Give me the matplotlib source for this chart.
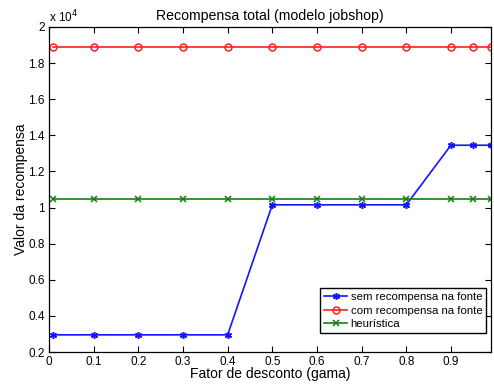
import matplotlib
matplotlib.use("Agg")
import matplotlib.pyplot as plt
from matplotlib.ticker import FuncFormatter, MultipleLocator

plt.rcParams["font.family"] = ["Liberation Sans", "DejaVu Sans"]

gama = [0.01, 0.1, 0.2, 0.3, 0.4, 0.5, 0.6, 0.7, 0.8, 0.9, 0.95, 0.99]
sem_fonte = [2950, 2950, 2950, 2950, 2950, 10150, 10150, 10150, 10150, 13450, 13450, 13450]
com_fonte = [18900] * 12
heuristica = [10450] * 12

fig = plt.figure(figsize=(4.94, 3.85), dpi=100)
ax = fig.add_axes([0.0992, 0.0857, 0.895, 0.8443])

ax.plot(gama, sem_fonte, "-", marker=(6, 2, 0), color="#1414ff", lw=1.2, ms=5, mew=1.1,
        label="sem recompensa na fonte")
ax.plot(gama, com_fonte, "-o", color="#ff2020", lw=1.2, ms=5, mfc="none", mew=1.1,
        label="com recompensa na fonte")
ax.plot(gama, heuristica, "-x", color="#108010", lw=1.2, ms=4, mew=1.1, label="heurística")

ax.set_xlim(0, 0.99)
ax.set_ylim(2000, 20000)
ax.xaxis.set_major_locator(MultipleLocator(0.1))
ax.yaxis.set_major_locator(MultipleLocator(2000))
ax.xaxis.set_major_formatter(FuncFormatter(lambda v, p: f"{v:g}"))
ax.yaxis.set_major_formatter(FuncFormatter(lambda v, p: f"{v / 1e4:g}"))
ax.tick_params(direction="in", top=True, right=True, labelsize=8.5, length=4, width=0.8, pad=3)
for s in ax.spines.values():
    s.set_linewidth(0.9)

ax.text(0, 1.005, r"x 10$^4$", transform=ax.transAxes, fontsize=8.5, va="bottom", ha="left")
ax.set_title("Recompensa total (modelo jobshop)", fontsize=10.2, pad=5)
ax.set_xlabel("Fator de desconto (gama)", fontsize=10, labelpad=-1)
ax.set_ylabel("Valor da recompensa", fontsize=10, labelpad=0)

leg = ax.legend(loc="lower right", bbox_to_anchor=(0.989, 0.058), fontsize=8.2, fancybox=False,
                edgecolor="black", framealpha=1, borderaxespad=0, handlelength=2,
                labelspacing=0.3, borderpad=0.35, handletextpad=0.3)
leg.get_frame().set_linewidth(1.0)

fig.savefig("out.png", dpi=100)
